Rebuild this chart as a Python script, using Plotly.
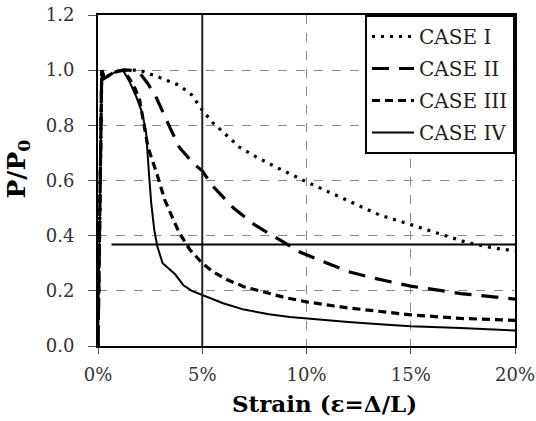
import plotly.graph_objects as go

# ---- data (strain in %, load ratio P/P0) ----
start_x = [0, 0.1, 0.18, 0.3, 0.6, 0.9, 1.2]
start_y = [0, 0.5, 1.0, 0.97, 0.985, 0.995, 1.0]

case1_x = start_x + [1.5, 2.0, 2.9, 3.9, 4.5, 5.0, 5.5, 6.2, 6.8, 7.6, 8.5, 10, 11, 12, 13.5, 15, 16.6, 17.7, 19, 20]
case1_y = start_y + [1.0, 1.0, 0.975, 0.945, 0.91, 0.855, 0.81, 0.76, 0.72, 0.685, 0.65, 0.595, 0.56, 0.525, 0.475, 0.44, 0.40, 0.375, 0.355, 0.345]

case2_x = start_x + [1.5, 2.0, 2.4, 2.8, 3.4, 3.9, 4.6, 5.0, 5.5, 6.5, 7.5, 8.4, 9.7, 11, 12, 13, 15, 17.4, 20]
case2_y = start_y + [1.0, 0.99, 0.95, 0.90, 0.80, 0.72, 0.66, 0.635, 0.58, 0.50, 0.44, 0.40, 0.34, 0.30, 0.27, 0.25, 0.217, 0.19, 0.17]

case3_x = start_x + [1.5, 1.8, 2.0, 2.2, 2.4, 2.8, 3.2, 3.6, 3.9, 4.4, 5.0, 5.5, 6.2, 7.0, 8.2, 9, 10, 12, 15, 17.4, 20]
case3_y = start_y + [0.97, 0.93, 0.89, 0.80, 0.72, 0.63, 0.53, 0.46, 0.41, 0.35, 0.30, 0.27, 0.24, 0.215, 0.19, 0.175, 0.16, 0.138, 0.113, 0.10, 0.093]

case4_x = start_x + [1.5, 1.8, 2.1, 2.3, 2.45, 2.55, 2.7, 2.85, 3.1, 3.4, 3.7, 4.1, 4.5, 5.0, 6.0, 7.0, 8.2, 9.2, 11, 12, 13.7, 15, 17.4, 20]
case4_y = start_y + [0.96, 0.91, 0.85, 0.78, 0.62, 0.52, 0.42, 0.36, 0.30, 0.28, 0.26, 0.22, 0.20, 0.185, 0.155, 0.132, 0.115, 0.105, 0.093, 0.087, 0.078, 0.072, 0.065, 0.056]

names = ["CASE I", "CASE II", "CASE III", "CASE IV"]
vline_x = 5.0            # strain reference (%)
hline_y = 0.368          # load reference
hline_x = [0.65, 20.7]   # extent of load reference (%)

x_ticks = [0, 5, 10, 15, 20]
y_ticks = [0.0, 0.2, 0.4, 0.6, 0.8, 1.0, 1.2]

x_title = "<b>Strain (ε=Δ/L)</b>"
y_title = "<b>P/P<sub>0</sub></b>"

FONT = "DejaVu Serif"

def pct(v):
    return [a / 100.0 for a in v]

styles = [
    dict(color="black", width=3.2, dash="3px,6px"),
    dict(color="black", width=3.2, dash="17px,10px"),
    dict(color="black", width=3.2, dash="8px,5px"),
    dict(color="black", width=2, dash="solid"),
]

fig = go.Figure()
for i, (xs, ys) in enumerate([(case1_x, case1_y), (case2_x, case2_y),
                              (case3_x, case3_y), (case4_x, case4_y)]):
    fig.add_trace(go.Scatter(x=pct(xs), y=ys, mode="lines", name=names[i],
                             line=styles[i], legendgroup=names[i]))

fig.add_shape(type="line", xref="x", yref="y", x0=vline_x / 100, x1=vline_x / 100,
              y0=y_ticks[0], y1=y_ticks[-1], line=dict(color="#222222", width=2), layer="above")
fig.add_shape(type="line", xref="x", yref="y", x0=hline_x[0] / 100, x1=hline_x[1] / 100,
              y0=hline_y, y1=hline_y, line=dict(color="black", width=1.8), layer="above")

fig.add_annotation(text=x_title, xref="paper", yref="paper", x=0.544, y=-0.173,
                   xanchor="center", yanchor="middle", showarrow=False,
                   font=dict(family=FONT, size=23, color="black"))
fig.add_annotation(text=y_title, xref="paper", yref="paper", x=-0.193, y=0.535,
                   xanchor="center", yanchor="middle", showarrow=False, textangle=-90,
                   font=dict(family=FONT, size=25, color="black"))

fig.update_layout(
    width=536, height=421,
    margin=dict(l=98, r=21, t=15, b=75, autoexpand=False),
    paper_bgcolor="white", plot_bgcolor="white",
    font=dict(family=FONT, color="#222222", size=18),
    showlegend=True,
    legend=dict(x=1, xanchor="right", y=1, yanchor="top",
                bgcolor="white", bordercolor="black", borderwidth=2,
                font=dict(family=FONT, size=20, color="#222222"),
                tracegroupgap=3, itemwidth=42),
    xaxis=dict(range=[0, 0.2], tickvals=pct(x_ticks), tickformat=".0%",
               automargin=False,
               showgrid=True, gridcolor="#8a8a8a", griddash="dash", gridwidth=1,
               showline=True, linecolor="black", linewidth=2, mirror=True,
               ticks="outside", ticklen=6, tickcolor="#555555",
               ticklabelstandoff=5,
               zeroline=False,
               tickfont=dict(family=FONT, size=18, color="#333333")),
    yaxis=dict(range=[0, 1.2], tickvals=y_ticks, tickformat=".1f",
               automargin=False,
               showgrid=True, gridcolor="#8a8a8a", griddash="dash", gridwidth=1,
               showline=True, linecolor="black", linewidth=2, mirror=True,
               ticks="outside", ticklen=8, tickcolor="#555555",
               ticklabelstandoff=10,
               zeroline=False,
               tickfont=dict(family=FONT, size=18, color="#333333")),
)

fig.write_html("out.html")
